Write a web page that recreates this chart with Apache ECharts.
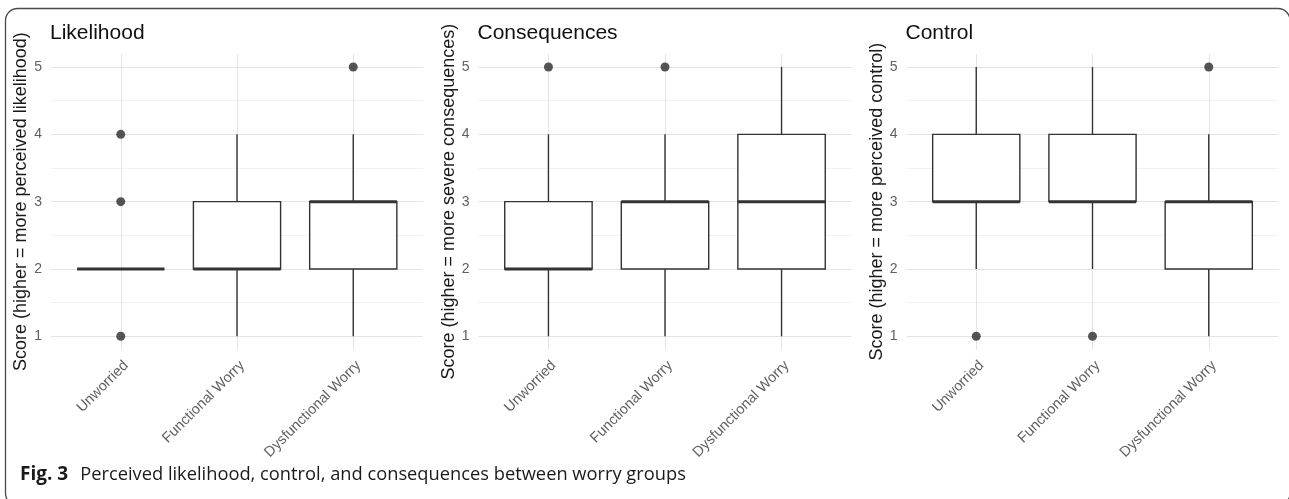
<!DOCTYPE html>
<html>
<head>
<meta charset="utf-8">
<script src="https://cdn.jsdelivr.net/npm/echarts@6/dist/echarts.min.js"></script>
<style>
html,body{margin:0;padding:0;background:#fff;}
#chart{width:1289px;height:499px;}
</style>
</head>
<body>
<div id="chart"></div>
<script>
// ---- data ----
const categories = ['Unworried', 'Functional Worry', 'Dysfunctional Worry'];
const yTicks = [1, 2, 3, 4, 5];
const panelTitles = ['Likelihood', 'Consequences', 'Control'];
const yTitles = [
  'Score (higher = more perceived likelihood)',
  'Score (higher = more severe consequences)',
  'Score (higher = more perceived control)'
];
// [min whisker, Q1, median, Q3, max whisker] per category
const likelihoodBox = [[2, 2, 2, 2, 2], [1, 2, 2, 3, 4], [1, 2, 3, 3, 4]];
const consequencesBox = [[1, 2, 2, 3, 4], [1, 2, 3, 3, 4], [1, 2, 3, 4, 5]];
const controlBox = [[2, 3, 3, 4, 5], [2, 3, 3, 4, 5], [1, 2, 3, 3, 4]];
// outliers [category index, value]
const likelihoodOutliers = [[0, 1], [0, 3], [0, 4], [2, 5]];
const consequencesOutliers = [[0, 5], [1, 5]];
const controlOutliers = [[0, 1], [1, 1], [2, 5]];

const boxes = [likelihoodBox, consequencesBox, controlBox];
const outliers = [likelihoodOutliers, consequencesOutliers, controlOutliers];

// ---- layout ----
const panelLeft = [51, 478.5, 906.5];
const panelRight = [423, 851.5, 1278.5];
const yTop5 = 67, yBottom1 = 336.3;
const fullTop = 54, fullBottom = 350;
const FONT = "'Liberation Sans', Arial, sans-serif";
const INK = '#333333';

const chart = echarts.init(document.getElementById('chart'), null, {renderer: 'canvas'});

const grid = [], xAxis = [], yAxis = [], series = [], title = [];
for (let p = 0; p < 3; p++) {
  const L = panelLeft[p], R = panelRight[p];
  const W = R - L;
  const step = W / 3.2;
  const c0 = L + 0.6 * step;
  // grid A: data + horizontal grid lines
  grid.push({left: L, top: yTop5, width: W, height: yBottom1 - yTop5, containLabel: false});
  // grid B: vertical grid lines + category labels
  grid.push({left: c0, top: fullTop, width: 2 * step, height: fullBottom - fullTop, containLabel: false});
  const gA = 2 * p, gB = 2 * p + 1;
  xAxis.push({type: 'value', gridIndex: gA, min: -0.6, max: 2.6, show: false});
  yAxis.push({
    type: 'value', gridIndex: gA, min: 1, max: 5, interval: 1,
    axisLine: {show: false}, axisTick: {show: false},
    axisLabel: {color: '#606060', fontSize: 14, fontFamily: FONT, margin: 9,
      formatter: v => (yTicks.indexOf(v) >= 0 ? String(v) : '')},
    splitLine: {show: true, lineStyle: {color: '#e4e4e4', width: 1}},
    minorTick: {show: false, splitNumber: 2},
    minorSplitLine: {show: true, lineStyle: {color: '#efefef', width: 0.8}},
    name: yTitles[p], nameLocation: 'middle', nameGap: 20, nameRotate: 90,
    nameTextStyle: {color: '#1a1a1a', fontSize: 18, fontFamily: FONT}
  });
  xAxis.push({
    type: 'category', gridIndex: gB, data: categories, boundaryGap: false,
    axisLine: {show: false}, axisTick: {show: false},
    axisLabel: {color: '#606060', fontSize: 14.5, fontFamily: FONT, rotate: 45, margin: 8,
      interval: 0, align: 'right', verticalAlign: 'top'},
    splitLine: {show: true, lineStyle: {color: '#e4e4e4', width: 1}}
  });
  yAxis.push({type: 'value', gridIndex: gB, min: 0, max: 1, show: false});

  title.push({
    text: panelTitles[p], left: L - 1, top: 23, padding: 0,
    textStyle: {color: '#111', fontSize: 21, fontWeight: 'normal', fontFamily: FONT}
  });

  series.push({
    type: 'custom',
    xAxisIndex: 2 * p, yAxisIndex: 2 * p,
    data: boxes[p].map((b, i) => [i].concat(b)),
    clip: false,
    renderItem: function (params, api) {
      const i = api.value(0);
      const lo = api.value(1), q1 = api.value(2), med = api.value(3), q3 = api.value(4), hi = api.value(5);
      const hw = 0.375;
      const tl = api.coord([i - hw, q3]);
      const br = api.coord([i + hw, q1]);
      const cLo = api.coord([i, lo]), cQ1 = api.coord([i, q1]), cQ3 = api.coord([i, q3]), cHi = api.coord([i, hi]);
      const mL = api.coord([i - hw, med]), mR = api.coord([i + hw, med]);
      const st = {stroke: INK, lineWidth: 1.4, fill: null};
      return {
        type: 'group',
        children: [
          {type: 'line', shape: {x1: cLo[0], y1: cLo[1], x2: cQ1[0], y2: cQ1[1]}, style: st},
          {type: 'line', shape: {x1: cQ3[0], y1: cQ3[1], x2: cHi[0], y2: cHi[1]}, style: st},
          {type: 'rect', shape: {x: tl[0], y: tl[1], width: br[0] - tl[0], height: br[1] - tl[1]},
            style: {stroke: INK, lineWidth: 1.4, fill: '#ffffff'}},
          {type: 'line', shape: {x1: mL[0], y1: mL[1], x2: mR[0], y2: mR[1]},
            style: {stroke: INK, lineWidth: 3, lineCap: 'butt'}}
        ]
      };
    }
  });
  series.push({
    type: 'scatter', xAxisIndex: 2 * p, yAxisIndex: 2 * p,
    data: outliers[p], symbolSize: 9, clip: false,
    itemStyle: {color: '#2b2b2b'}
  });
}

chart.setOption({
  animation: false,
  backgroundColor: '#ffffff',
  title: title,
  grid: grid,
  xAxis: xAxis,
  yAxis: yAxis,
  series: series,
  graphic: [
    {
      type: 'rect', left: 3, top: 6, z: -1,
      shape: {x: 0, y: 0, width: 1284.5, height: 497, r: 12},
      style: {fill: 'none', stroke: '#4a4a4a', lineWidth: 1.3}
    },
    {
      type: 'text', left: 20, top: 465,
      style: {
        text: '{b|Fig. 3}{g| }{n|Perceived likelihood, control, and consequences between worry groups}',
        rich: {
          b: {fontFamily: "'Open Sans', sans-serif", fontWeight: 'bold', fontSize: 19, fill: '#1a1a1a'},
          g: {fontFamily: "'Open Sans', sans-serif", fontSize: 19, width: 12},
          n: {fontFamily: "'Open Sans', sans-serif", fontSize: 18.3, fill: '#1a1a1a'}
        }
      }
    }
  ]
});
</script>
</body>
</html>
